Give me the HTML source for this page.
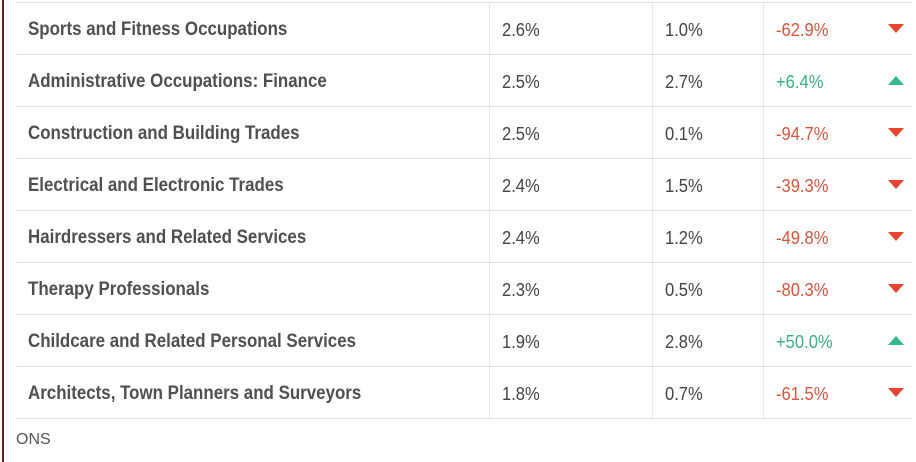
<!DOCTYPE html>
<html><head><style>
body{margin:0;width:916px;height:462px;background:#fff;position:relative;overflow:hidden;font-family:"Liberation Sans",sans-serif;}
.bar{position:absolute;left:2px;top:0;width:2px;height:462px;background:#6b1a1a;}
.h{position:absolute;left:16px;width:896px;height:1px;background:#e2e2e2;}
.v{position:absolute;top:2px;width:1px;height:416px;background:#e6e6e6;}
.t{position:absolute;font-size:19px;font-weight:bold;color:#4f4f4f;white-space:nowrap;transform-origin:left center;transform:scaleX(0.89);line-height:20px;}
.n{position:absolute;font-size:18px;color:#444;line-height:20px;transform-origin:left center;transform:scaleX(0.92);}
.r{color:#d9553e}.g{color:#3aae84}
.dn{position:absolute;left:888px;width:0;height:0;border-left:8px solid transparent;border-right:8px solid transparent;border-top:9px solid #e8452f;}
.up{position:absolute;left:888px;width:0;height:0;border-left:8px solid transparent;border-right:8px solid transparent;border-bottom:9px solid #34b88a;}
.src{position:absolute;left:16px;top:431px;font-size:16px;color:#555;}
</style></head><body>
<div class="bar"></div>
<div class="v" style="left:489px"></div><div class="v" style="left:652px"></div><div class="v" style="left:763px"></div>
<div class="h" style="top:2px"></div><div class="h" style="top:54px"></div><div class="h" style="top:106px"></div><div class="h" style="top:158px"></div><div class="h" style="top:210px"></div><div class="h" style="top:262px"></div><div class="h" style="top:314px"></div><div class="h" style="top:366px"></div><div class="h" style="top:418px"></div>

<div class="t" style="left:28px;top:20px">Sports and Fitness Occupations</div>
<div class="n" style="left:502px;top:20px">2.6%</div><div class="n" style="left:665px;top:20px">1.0%</div><div class="n r" style="left:776px;top:20px">-62.9%</div><div class="dn" style="top:24px"></div>

<div class="t" style="left:28px;top:72px">Administrative Occupations: Finance</div>
<div class="n" style="left:502px;top:72px">2.5%</div><div class="n" style="left:665px;top:72px">2.7%</div><div class="n g" style="left:776px;top:72px">+6.4%</div><div class="up" style="top:76px"></div>

<div class="t" style="left:28px;top:124px">Construction and Building Trades</div>
<div class="n" style="left:502px;top:124px">2.5%</div><div class="n" style="left:665px;top:124px">0.1%</div><div class="n r" style="left:776px;top:124px">-94.7%</div><div class="dn" style="top:128px"></div>

<div class="t" style="left:28px;top:176px">Electrical and Electronic Trades</div>
<div class="n" style="left:502px;top:176px">2.4%</div><div class="n" style="left:665px;top:176px">1.5%</div><div class="n r" style="left:776px;top:176px">-39.3%</div><div class="dn" style="top:180px"></div>

<div class="t" style="left:28px;top:228px">Hairdressers and Related Services</div>
<div class="n" style="left:502px;top:228px">2.4%</div><div class="n" style="left:665px;top:228px">1.2%</div><div class="n r" style="left:776px;top:228px">-49.8%</div><div class="dn" style="top:232px"></div>

<div class="t" style="left:28px;top:280px">Therapy Professionals</div>
<div class="n" style="left:502px;top:280px">2.3%</div><div class="n" style="left:665px;top:280px">0.5%</div><div class="n r" style="left:776px;top:280px">-80.3%</div><div class="dn" style="top:284px"></div>

<div class="t" style="left:28px;top:332px">Childcare and Related Personal Services</div>
<div class="n" style="left:502px;top:332px">1.9%</div><div class="n" style="left:665px;top:332px">2.8%</div><div class="n g" style="left:776px;top:332px">+50.0%</div><div class="up" style="top:336px"></div>

<div class="t" style="left:28px;top:384px">Architects, Town Planners and Surveyors</div>
<div class="n" style="left:502px;top:384px">1.8%</div><div class="n" style="left:665px;top:384px">0.7%</div><div class="n r" style="left:776px;top:384px">-61.5%</div><div class="dn" style="top:388px"></div>

<div class="src">ONS</div>
</body></html>
